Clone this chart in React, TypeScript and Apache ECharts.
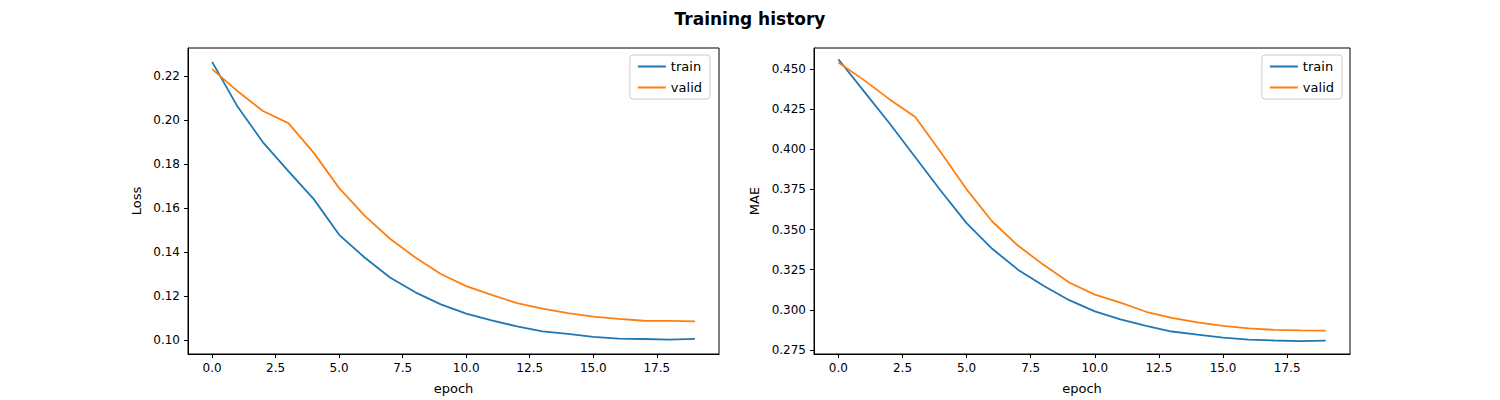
import React, { useEffect, useRef } from "react";
import * as echarts from "echarts";

const epochs = Array.from({ length: 20 }, (_, i) => i);
const lossTrain = [0.2263, 0.206, 0.1898, 0.1767, 0.164, 0.1478, 0.1375, 0.1284, 0.1217, 0.1162, 0.112, 0.109, 0.1062, 0.104, 0.1028, 0.1015, 0.1007, 0.1005, 0.1002, 0.1006];
const lossValid = [0.223, 0.213, 0.204, 0.1985, 0.185, 0.169, 0.1565, 0.146, 0.1375, 0.13, 0.1245, 0.1205, 0.1168, 0.1143, 0.1123, 0.1107, 0.1096, 0.1088, 0.1087, 0.1085];
const maeTrain = [0.456, 0.436, 0.416, 0.395, 0.374, 0.354, 0.338, 0.325, 0.315, 0.306, 0.299, 0.294, 0.29, 0.2865, 0.2845, 0.2827, 0.2815, 0.2809, 0.2805, 0.2808];
const maeValid = [0.454, 0.443, 0.431, 0.42, 0.398, 0.375, 0.355, 0.34, 0.328, 0.317, 0.3095, 0.3045, 0.2988, 0.295, 0.2922, 0.29, 0.2885, 0.2875, 0.2872, 0.2871];
const xTicks = [0, 2.5, 5, 7.5, 10, 12.5, 15, 17.5];
const lossTicks = [0.1, 0.12, 0.14, 0.16, 0.18, 0.2, 0.22];
const maeTicks = [0.275, 0.3, 0.325, 0.35, 0.375, 0.4, 0.425, 0.45];

const FONT = "DejaVu Sans";
const C1 = "#1f77b4";
const C2 = "#ff7f0e";

export default function App() {
  const ref = useRef<HTMLDivElement>(null);
  useEffect(() => {
    document.body.style.margin = "0";
    const chart = echarts.init(ref.current!, null, { renderer: "svg" });
    const axisCommon = {
      axisLine: { show: true, onZero: false, lineStyle: { color: "#000", width: 1 } },
      axisTick: { show: true, length: 4, lineStyle: { color: "#000" } },
      splitLine: { show: false },
    };
    const xAxis = (gi: number) => ({
      type: "value", gridIndex: gi, min: -0.95, max: 19.95, name: "epoch",
      nameLocation: "middle", nameGap: 28,
      nameTextStyle: { fontFamily: FONT, fontSize: 13, color: "#000" },
      ...axisCommon,
      axisTick: { ...axisCommon.axisTick, customValues: xTicks },
      axisLabel: { customValues: xTicks, fontFamily: FONT, fontSize: 12, color: "#000", margin: 8, formatter: (v: number) => v.toFixed(1) },
    });
    const yAxis = (gi: number, min: number, max: number, ticks: number[], name: string, dec: number, gap: number) => ({
      type: "value", gridIndex: gi, min, max, name, nameLocation: "middle", nameGap: gap,
      nameTextStyle: { fontFamily: FONT, fontSize: 13, color: "#000" },
      ...axisCommon,
      axisTick: { ...axisCommon.axisTick, customValues: ticks },
      axisLabel: { customValues: ticks, fontFamily: FONT, fontSize: 12, color: "#000", margin: 8, formatter: (v: number) => v.toFixed(dec) },
    });
    const line = (name: string, data: number[], color: string, gi: number) => ({
      type: "line", name, xAxisIndex: gi, yAxisIndex: gi, showSymbol: false,
      data: epochs.map((e, i) => [e, data[i]]),
      lineStyle: { color, width: 1.8 }, itemStyle: { color },
    });
    const legend = (right: number) => ({
      orient: "vertical", top: 55, right, data: ["train", "valid"],
      borderColor: "#ccc", borderWidth: 1, borderRadius: 3, padding: [5, 8],
      itemWidth: 28, itemHeight: 2, itemGap: 8, icon: "rect",
      textStyle: { fontFamily: FONT, fontSize: 13, color: "#000" },
      backgroundColor: "rgba(255,255,255,0.8)",
    });
    chart.setOption({
      animation: false,
      title: { text: "Training history", left: "center", top: 5, textStyle: { fontFamily: FONT, fontSize: 17, fontWeight: "bold", color: "#000" } },
      legend: [ { ...legend(790) }, { ...legend(158) } ],
      grid: [
        { left: 188, right: 781, top: 48, bottom: 44, show: true, borderColor: "#000", borderWidth: 1 },
        { left: 814, right: 150, top: 48, bottom: 44, show: true, borderColor: "#000", borderWidth: 1 },
      ],
      xAxis: [xAxis(0), xAxis(1)],
      yAxis: [
        yAxis(0, 0.0937, 0.2326, lossTicks, "Loss", 2, 45),
        yAxis(1, 0.2725, 0.463, maeTicks, "MAE", 3, 53),
      ],
      series: [
        line("train", lossTrain, C1, 0),
        line("valid", lossValid, C2, 0),
        line("train", maeTrain, C1, 1),
        line("valid", maeValid, C2, 1),
      ],
    });
    return () => chart.dispose();
  }, []);
  return <div ref={ref} style={{ width: 1500, height: 400 }} />;
}
